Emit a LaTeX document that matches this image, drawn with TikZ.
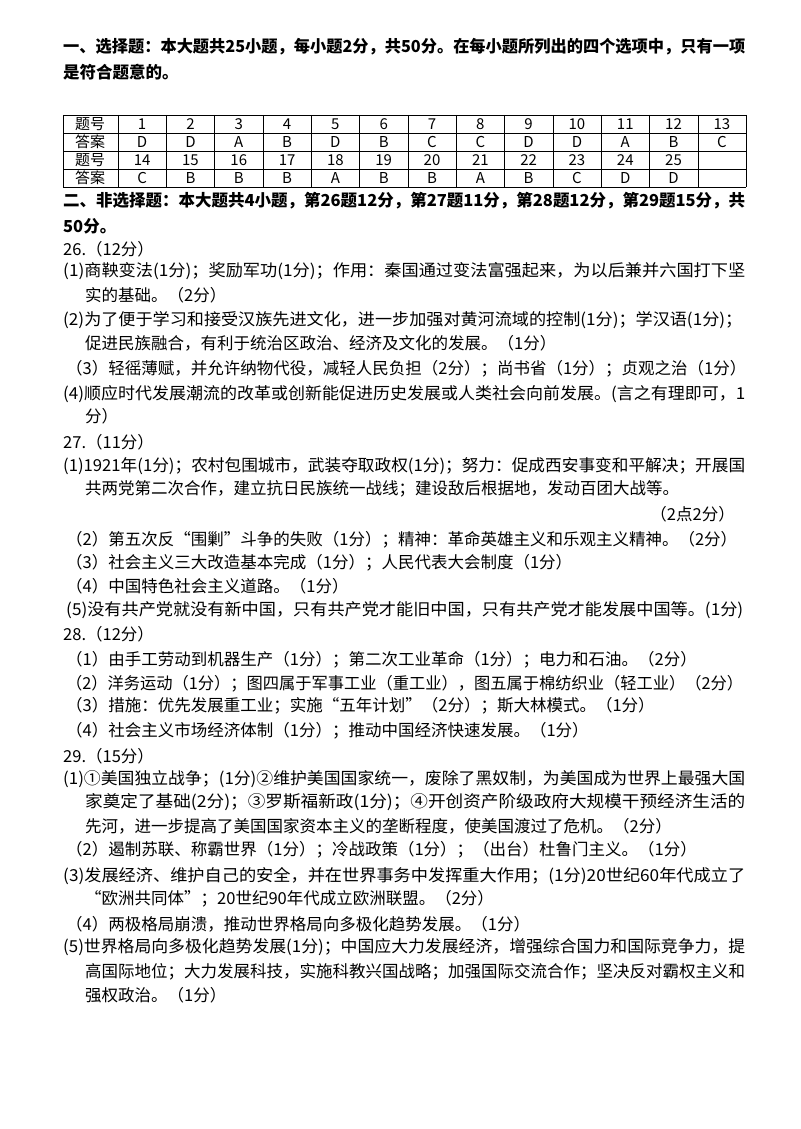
\documentclass[tikz,border=0pt]{standalone}
\usepackage{fontspec}
\usepackage{graphicx}
\setmainfont{Noto Sans CJK SC}
\newcommand{\fitw}[2]{\resizebox{#1pt}{\height}{#2}}
\begin{document}
\begin{tikzpicture}[x=1pt,y=-1pt,
  t/.style={anchor=west,inner sep=0pt,font=\fontsize{16.5}{18}\selectfont},
  b/.style={t,font=\fontsize{16.5}{18}\selectfont\bfseries},
  c/.style={inner sep=0pt,font=\fontsize{15}{16}\selectfont}]
\useasboundingbox (0,0) rectangle (800,1129);
\node[b] (h1) at (63,47) {\fitw{682}{一、选择题：本大题共25小题，每小题2分，共50分。在每小题所列出的四个选项中，只有一项}};
\node[b] (h2) at (63,72) {是符合题意的。};
% table
\foreach \y in {115,133,151,169,187} \draw (63,\y) -- (746,\y);
\draw (63,115) -- (63,187);
\foreach \i in {0,...,13} \draw ({118+\i*48.31},115) -- ({118+\i*48.31},187);
\foreach \r/\lab in {0/题号,1/答案,2/题号,3/答案} \node[c] at (90,{124+\r*18}) {\lab};
\foreach \v [count=\i from 0] in {1,2,3,4,5,6,7,8,9,10,11,12,13} \node[c] at ({142.15+\i*48.31},124) {\v};
\foreach \v [count=\i from 0] in {D,D,A,B,D,B,C,C,D,D,A,B,C} \node[c] at ({142.15+\i*48.31},142) {\v};
\foreach \v [count=\i from 0] in {14,15,16,17,18,19,20,21,22,23,24,25} \node[c] at ({142.15+\i*48.31},160) {\v};
\foreach \v [count=\i from 0] in {C,B,B,B,A,B,B,A,B,C,D,D} \node[c] at ({142.15+\i*48.31},178) {\v};
\node[b] (h3) at (63,201) {\fitw{682}{二、非选择题：本大题共4小题，第26题12分，第27题11分，第28题12分，第29题15分，共}};
\node[b] (h4) at (63,226) {50分。};
\node[t] (a1) at (63,249) {26.（12分）};
\node[t] (a2) at (63,271) {\fitw{682}{(1)商鞅变法(1分)；奖励军功(1分)；作用：秦国通过变法富强起来，为以后兼并六国打下坚}};
\node[t] (a3) at (85,295) {实的基础。（2分）};
\node[t] (a4) at (63,320) {\fitw{679}{(2)为了便于学习和接受汉族先进文化，进一步加强对黄河流域的控制(1分)；学汉语(1分)；}};
\node[t] (a5) at (85,343) {促进民族融合，有利于统治区政治、经济及文化的发展。（1分）};
\node[t] (a6) at (66,369) {（3）轻徭薄赋，并允许纳物代役，减轻人民负担（2分）；尚书省（1分）；贞观之治（1分）};
\node[t] (a7) at (63,394) {\fitw{682}{(4)顺应时代发展潮流的改革或创新能促进历史发展或人类社会向前发展。(言之有理即可，1}};
\node[t] (a8) at (85,416) {分）};
\node[t] (b1) at (63,442) {27.（11分）};
\node[t] (b2) at (63,466) {\fitw{682}{(1)1921年(1分)；农村包围城市，武装夺取政权(1分)；努力：促成西安事变和平解决；开展国}};
\node[t] (b3) at (85,489) {共两党第二次合作，建立抗日民族统一战线；建设敌后根据地，发动百团大战等。};
\node[t,anchor=east] (b4) at (735,514) {（2点2分）};
\node[t] (b5) at (66,540) {（2）第五次反“围剿”斗争的失败（1分）；精神：革命英雄主义和乐观主义精神。（2分）};
\node[t] (b6) at (66,563) {（3）社会主义三大改造基本完成（1分）；人民代表大会制度（1分）};
\node[t] (b7) at (66,586) {（4）中国特色社会主义道路。（1分）};
\node[t] (b8) at (66,610) {\fitw{677}{(5)没有共产党就没有新中国，只有共产党才能旧中国，只有共产党才能发展中国等。(1分)}};
\node[t] (c1) at (63,634) {28.（12分）};
\node[t] (c2) at (66,660) {（1）由手工劳动到机器生产（1分）；第二次工业革命（1分）；电力和石油。（2分）};
\node[t] (c3) at (66,684) {\fitw{677}{（2）洋务运动（1分）；图四属于军事工业（重工业），图五属于棉纺织业（轻工业）（2分）}};
\node[t] (c4) at (66,706) {（3）措施：优先发展重工业；实施“五年计划”（2分）；斯大林模式。（1分）};
\node[t] (c5) at (66,731) {（4）社会主义市场经济体制（1分）；推动中国经济快速发展。（1分）};
\node[t] (d1) at (63,756) {29.（15分）};
\node[t] (d2) at (63,779) {\fitw{682}{(1)①美国独立战争；(1分)②维护美国国家统一，废除了黑奴制，为美国成为世界上最强大国}};
\node[t] (d3) at (85,802) {\fitw{660}{家奠定了基础(2分)；③罗斯福新政(1分)；④开创资产阶级政府大规模干预经济生活的}};
\node[t] (d4) at (85,826) {先河，进一步提高了美国国家资本主义的垄断程度，使美国渡过了危机。（2分）};
\node[t] (d5) at (66,850) {（2）遏制苏联、称霸世界（1分）；冷战政策（1分）；（出台）杜鲁门主义。（1分）};
\node[t] (d6) at (63,876) {\fitw{682}{(3)发展经济、维护自己的安全，并在世界事务中发挥重大作用；(1分)20世纪60年代成立了}};
\node[t] (d7) at (85,899) {“欧洲共同体”；20世纪90年代成立欧洲联盟。（2分）};
\node[t] (d8) at (66,924) {（4）两极格局崩溃，推动世界格局向多极化趋势发展。（1分）};
\node[t] (d9) at (63,947) {\fitw{682}{(5)世界格局向多极化趋势发展(1分)；中国应大力发展经济，增强综合国力和国际竞争力，提}};
\node[t] (d10) at (85,972) {\fitw{660}{高国际地位；大力发展科技，实施科教兴国战略；加强国际交流合作；坚决反对霸权主义和}};
\node[t] (d11) at (85,995) {强权政治。（1分）};
\end{tikzpicture}
\end{document}
